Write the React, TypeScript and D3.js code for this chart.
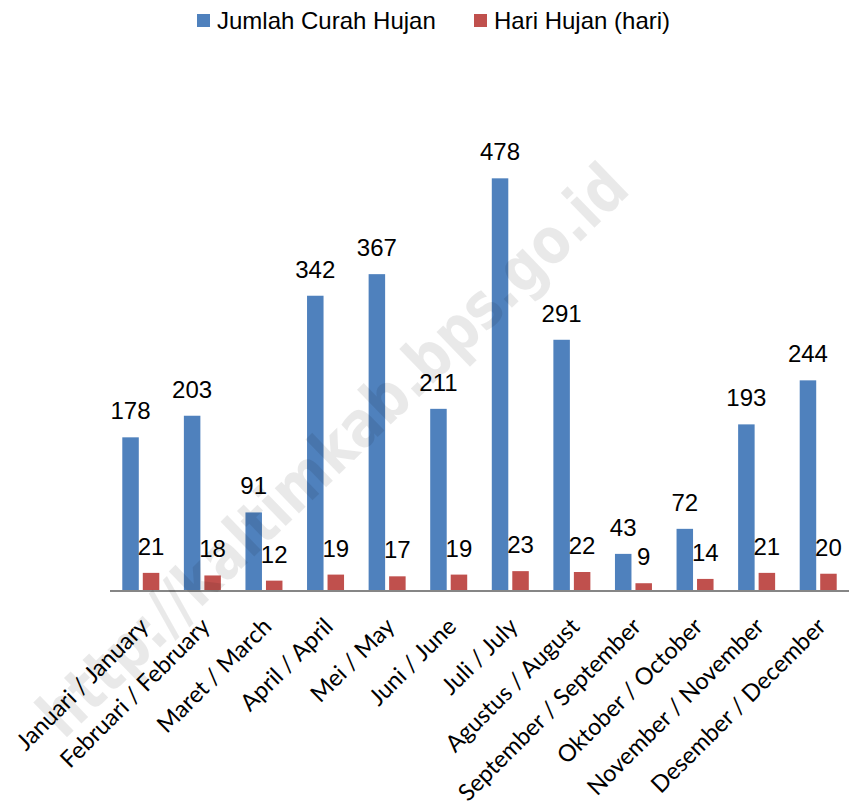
import React from "react";
import * as d3 from "d3";

const categories = [
  "Januari / January",
  "Februari / February",
  "Maret / March",
  "April / April",
  "Mei / May",
  "Juni / June",
  "Juli / July",
  "Agustus / August",
  "September / September",
  "Oktober / October",
  "November / November",
  "Desember / December",
];
const curahHujan = [178, 203, 91, 342, 367, 211, 478, 291, 43, 72, 193, 244];
const hariHujan = [21, 18, 12, 19, 17, 19, 23, 22, 9, 14, 21, 20];
const seriesNames = ["Jumlah Curah Hujan", "Hari Hujan (hari)"];
const seriesColors = ["#4F81BD", "#C0504D"];
const watermark = "http://kaltimkab.bps.go.id";

const W = 849;
const H = 810;

export default function App() {
  const x0 = d3.scaleBand<string>().domain(categories).range([110, 849]).paddingInner(0).paddingOuter(0);
  const groupW = 37;
  const x1 = d3.scaleBand<number>().domain([0, 1]).range([0, groupW]).paddingInner(0.195).paddingOuter(0);
  const y = d3.scaleLinear().domain([0, 600]).range([591, 73]);
  const series = [curahHujan, hariHujan];
  const valueFont = "'Liberation Sans', Arial, sans-serif";
  const labelFont = "Lato, 'Open Sans', sans-serif";

  return (
    <svg
      width={W}
      height={H}
      viewBox={`0 0 ${W} ${H}`}
      style={{ position: "absolute", left: 0, top: 0, background: "#fff" }}
    >
      <rect x={0} y={0} width={W} height={H} fill="#fff" />
      {/* legend */}
      <g>
        {seriesNames.map((name, i) => {
          const lx = i === 0 ? 197 : 474;
          return (
            <g key={name}>
              <rect x={lx} y={14} width={13} height={13} fill={seriesColors[i]} />
              <text x={lx + 20} y={28.5} fontFamily={valueFont} fontSize={24} fill="#000">
                {name}
              </text>
            </g>
          );
        })}
      </g>
      {/* bars */}
      {categories.map((c, ci) => {
        const gx = (x0(c) as number) + (x0.bandwidth() - groupW) / 2;
        return (
          <g key={c}>
            {series.map((s, si) => {
              const bx = gx + (x1(si) as number);
              const top = y(s[ci]);
              return (
                <g key={si}>
                  <rect x={bx} y={top} width={x1.bandwidth()} height={y(0) - top} fill={seriesColors[si]} />
                  <text
                    x={bx + x1.bandwidth() / 2}
                    y={top - 18}
                    textAnchor="middle"
                    fontFamily={valueFont}
                    fontSize={24}
                    fill="#000"
                  >
                    {s[ci]}
                  </text>
                </g>
              );
            })}
          </g>
        );
      })}
      {/* axis line */}
      <line x1={110} x2={849} y1={591} y2={591} stroke="#868686" strokeWidth={2} />
      {/* category labels */}
      {categories.map((c) => {
        const cx = (x0(c) as number) + x0.bandwidth() / 2;
        return (
          <text
            key={c}
            transform={`translate(${cx + 9},${628}) rotate(-45)`}
            textAnchor="end"
            fontFamily={labelFont}
            fontSize={23.5}
            fill="#000"
          >
            {c}
          </text>
        );
      })}
      {/* watermark */}
      <text
        transform="translate(348,466) rotate(-44)"
        textAnchor="middle"
        fontFamily="'DejaVu Sans', sans-serif"
        fontWeight="bold"
        fontSize={64}
        textLength={790}
        lengthAdjust="spacingAndGlyphs"
        fill="#000"
        fillOpacity={0.085}
        style={{ pointerEvents: "none" }}
      >
        {watermark}
      </text>
    </svg>
  );
}
